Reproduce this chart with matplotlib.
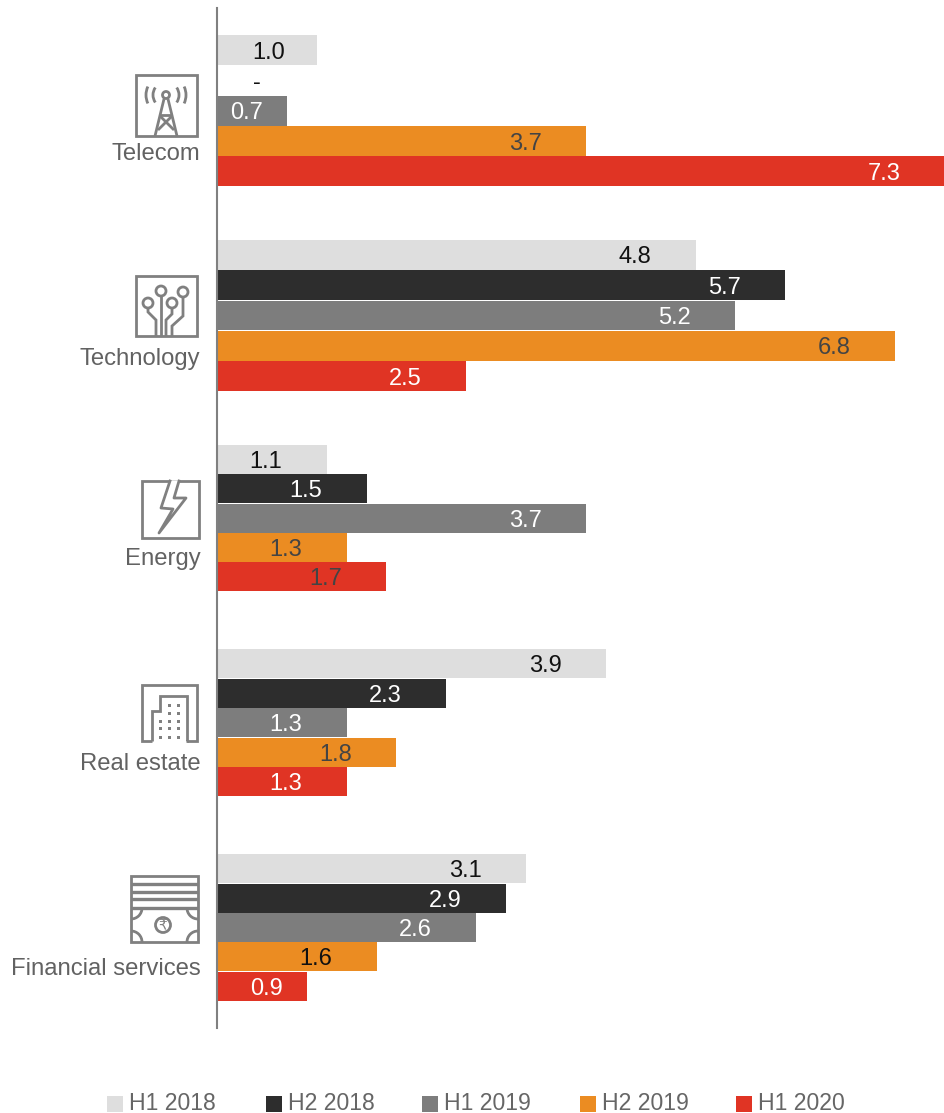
import matplotlib
matplotlib.use("Agg")
import matplotlib.pyplot as plt
from matplotlib.patches import Arc, Circle, Rectangle
import numpy as np

plt.rcParams['font.family'] = ['Liberation Sans', 'DejaVu Sans']

categories = ["Telecom", "Technology", "Energy", "Real estate", "Financial services"]
periods = ["H1 2018", "H2 2018", "H1 2019", "H2 2019", "H1 2020"]

h1_2018 = [1.0, 4.8, 1.1, 3.9, 3.1]
h2_2018 = [None, 5.7, 1.5, 2.3, 2.9]  # no deal value for telecom, shown as a dash
h1_2019 = [0.7, 5.2, 3.7, 1.3, 2.6]
h2_2019 = [3.7, 6.8, 1.3, 1.8, 1.6]
h1_2020 = [7.3, 2.5, 1.7, 1.3, 0.9]

series = [h1_2018, h2_2018, h1_2019, h2_2019, h1_2020]
colours = ["#DEDEDE", "#2D2D2D", "#7D7D7D", "#EB8C22", "#E03424"]

BLACK = "#111111"
WHITE = "#FFFFFF"
DARK = "#444444"
label_colours = [
    [BLACK, BLACK, BLACK, BLACK, BLACK],
    [WHITE, WHITE, WHITE, WHITE, WHITE],
    [WHITE, WHITE, WHITE, WHITE, WHITE],
    [DARK, DARK, DARK, DARK, BLACK],
    [WHITE, WHITE, DARK, WHITE, WHITE],
]

GREY = "#808080"
TEXT = "#626262"

fig = plt.figure(figsize=(9.45, 11.13), dpi=100)

# Bars live on value / category scales, the axes fills the whole figure
ax = fig.add_axes([0, 0, 1, 1])
ax.set_xlim(-217 / 99.7, 728 / 99.7)
ax.set_ylim(4.895, -0.541)
ax.patch.set_alpha(0)
for side in ["top", "right", "bottom"]:
    ax.spines[side].set_visible(False)
ax.spines["left"].set_position(("data", 0))
ax.spines["left"].set_bounds(-0.50, 4.48)
ax.spines["left"].set_color(GREY)
ax.spines["left"].set_linewidth(1.5)
ax.spines["left"].set_zorder(5)
ax.set_xticks([])
ax.set_yticks([])

# the first two groups are drawn a little taller than the other three
top_offset = -2.5 * 0.148
group_steps = np.array([0.148, 0.148, 0.1437, 0.1437, 0.1437])
for j, vals in enumerate(series):
    y = np.arange(len(categories)) + top_offset + (j + 0.5) * group_steps
    widths = [0 if v is None else v for v in vals]
    ax.barh(y, widths, height=group_steps * 0.985, color=colours[j], linewidth=0)
    for i, v in enumerate(vals):
        if v is None:
            ax.text(0.40, y[i] + 0.012, "-", ha="center", va="center", fontsize=17, color=BLACK)
            continue
        # short bars get their label nearer the end
        if v < 1.0:
            inset = 0.40
        elif v == 1.0:
            inset = 0.48
        else:
            inset = 0.61
        ax.text(v - inset, y[i] + 0.012, "%.1f" % v, ha="center", va="center",
                fontsize=17, color=label_colours[j][i])

# Second layer in figure pixels for the icons, category names and legend
px = fig.add_axes([0, 0, 1, 1])
px.set_xlim(0, 945)
px.set_ylim(1113, 0)
px.axis("off")
px.patch.set_alpha(0)

LW = 2.0


def line(points, lw=LW):
    xs, ys = zip(*points)
    px.plot(xs, ys, color=GREY, lw=lw, solid_capstyle="butt", solid_joinstyle="miter")


def box(x0, y0, x1, y1):
    px.add_patch(Rectangle((x0, y0), x1 - x0, y1 - y0, fill=False, ec=GREY, lw=LW))


def ring(x, y, r):
    px.add_patch(Circle((x, y), r, fill=False, ec=GREY, lw=LW))


def arc(x, y, r, start, end, lw=LW):
    px.add_patch(Arc((x, y), 2 * r, 2 * r, theta1=start, theta2=end, ec=GREY, lw=lw))


def telecom_icon():
    box(136, 75, 197, 136)
    ring(166, 95, 3.5)
    line([(164, 99), (155, 136)])
    line([(168, 99), (177, 136)])
    line([(160, 115), (172, 115)])
    line([(160, 116), (174, 130)])
    line([(172, 116), (158, 130)])
    arc(166, 95, 13, 145, 215)
    arc(166, 95, 13, -35, 35)
    arc(166, 95, 20, 155, 205)
    arc(166, 95, 20, -25, 25)


def technology_icon():
    box(136, 276, 197, 336)
    for x, y in [(148, 303), (161, 291), (172, 303), (183, 292)]:
        ring(x, y, 5)
    line([(148, 308), (148, 312), (156, 320), (156, 336)])
    line([(161, 296), (161, 336)])
    line([(172, 308), (172, 314), (166, 320), (166, 336)])
    line([(183, 297), (183, 316), (172, 326), (172, 336)])


def energy_icon():
    box(142, 481, 199, 538)
    bolt = [(170, 481), (161, 508), (173, 509), (159, 533), (186, 498), (174, 498), (179, 481)]
    px.fill([p[0] for p in bolt], [p[1] for p in bolt], color="white", zorder=3)
    xs, ys = zip(*bolt)
    px.plot(xs, ys, color=GREY, lw=LW, zorder=4)


def real_estate_icon():
    line([(152, 741), (142, 741), (142, 685), (197, 685), (197, 741), (187, 741)])
    line([(152, 741), (152, 711), (160, 711), (160, 696), (187, 696), (187, 741), (186, 741)])
    for y in (705, 713, 721, 728, 737):
        for x in (160, 169, 178):
            if x == 160 and y < 720:
                continue
            px.add_patch(Rectangle((x - 1.5, y - 1.5), 3, 3, color=GREY, lw=0))


def financial_icon():
    box(131, 876, 198, 942)
    for y in (884, 892, 899, 908):
        line([(131, y), (198, y)], lw=2.4)
    arc(131, 908, 11, 0, 90)
    arc(198, 908, 11, 90, 180)
    arc(131, 942, 11, 270, 360)
    arc(198, 942, 11, 180, 270)
    ring(163, 925, 7.5)
    px.text(163, 925.5, "\u20b9", ha="center", va="center", fontsize=10, color=GREY,
            family="DejaVu Sans")


telecom_icon()
technology_icon()
energy_icon()
real_estate_icon()
financial_icon()

name_y = [154, 359, 559, 764, 969]
for name, y in zip(categories, name_y):
    px.text(200.5, y, name, ha="right", va="center", fontsize=17.2, color=TEXT)

swatch_x = [107, 266, 422, 580, 736]
for x, period, c in zip(swatch_x, periods, colours):
    px.add_patch(Rectangle((x, 1096), 16, 16, color=c, lw=0))
    px.text(x + 22, 1103.5, period, ha="left", va="center", fontsize=16.6, color="#666666")

fig.savefig("out.png", dpi=100)
